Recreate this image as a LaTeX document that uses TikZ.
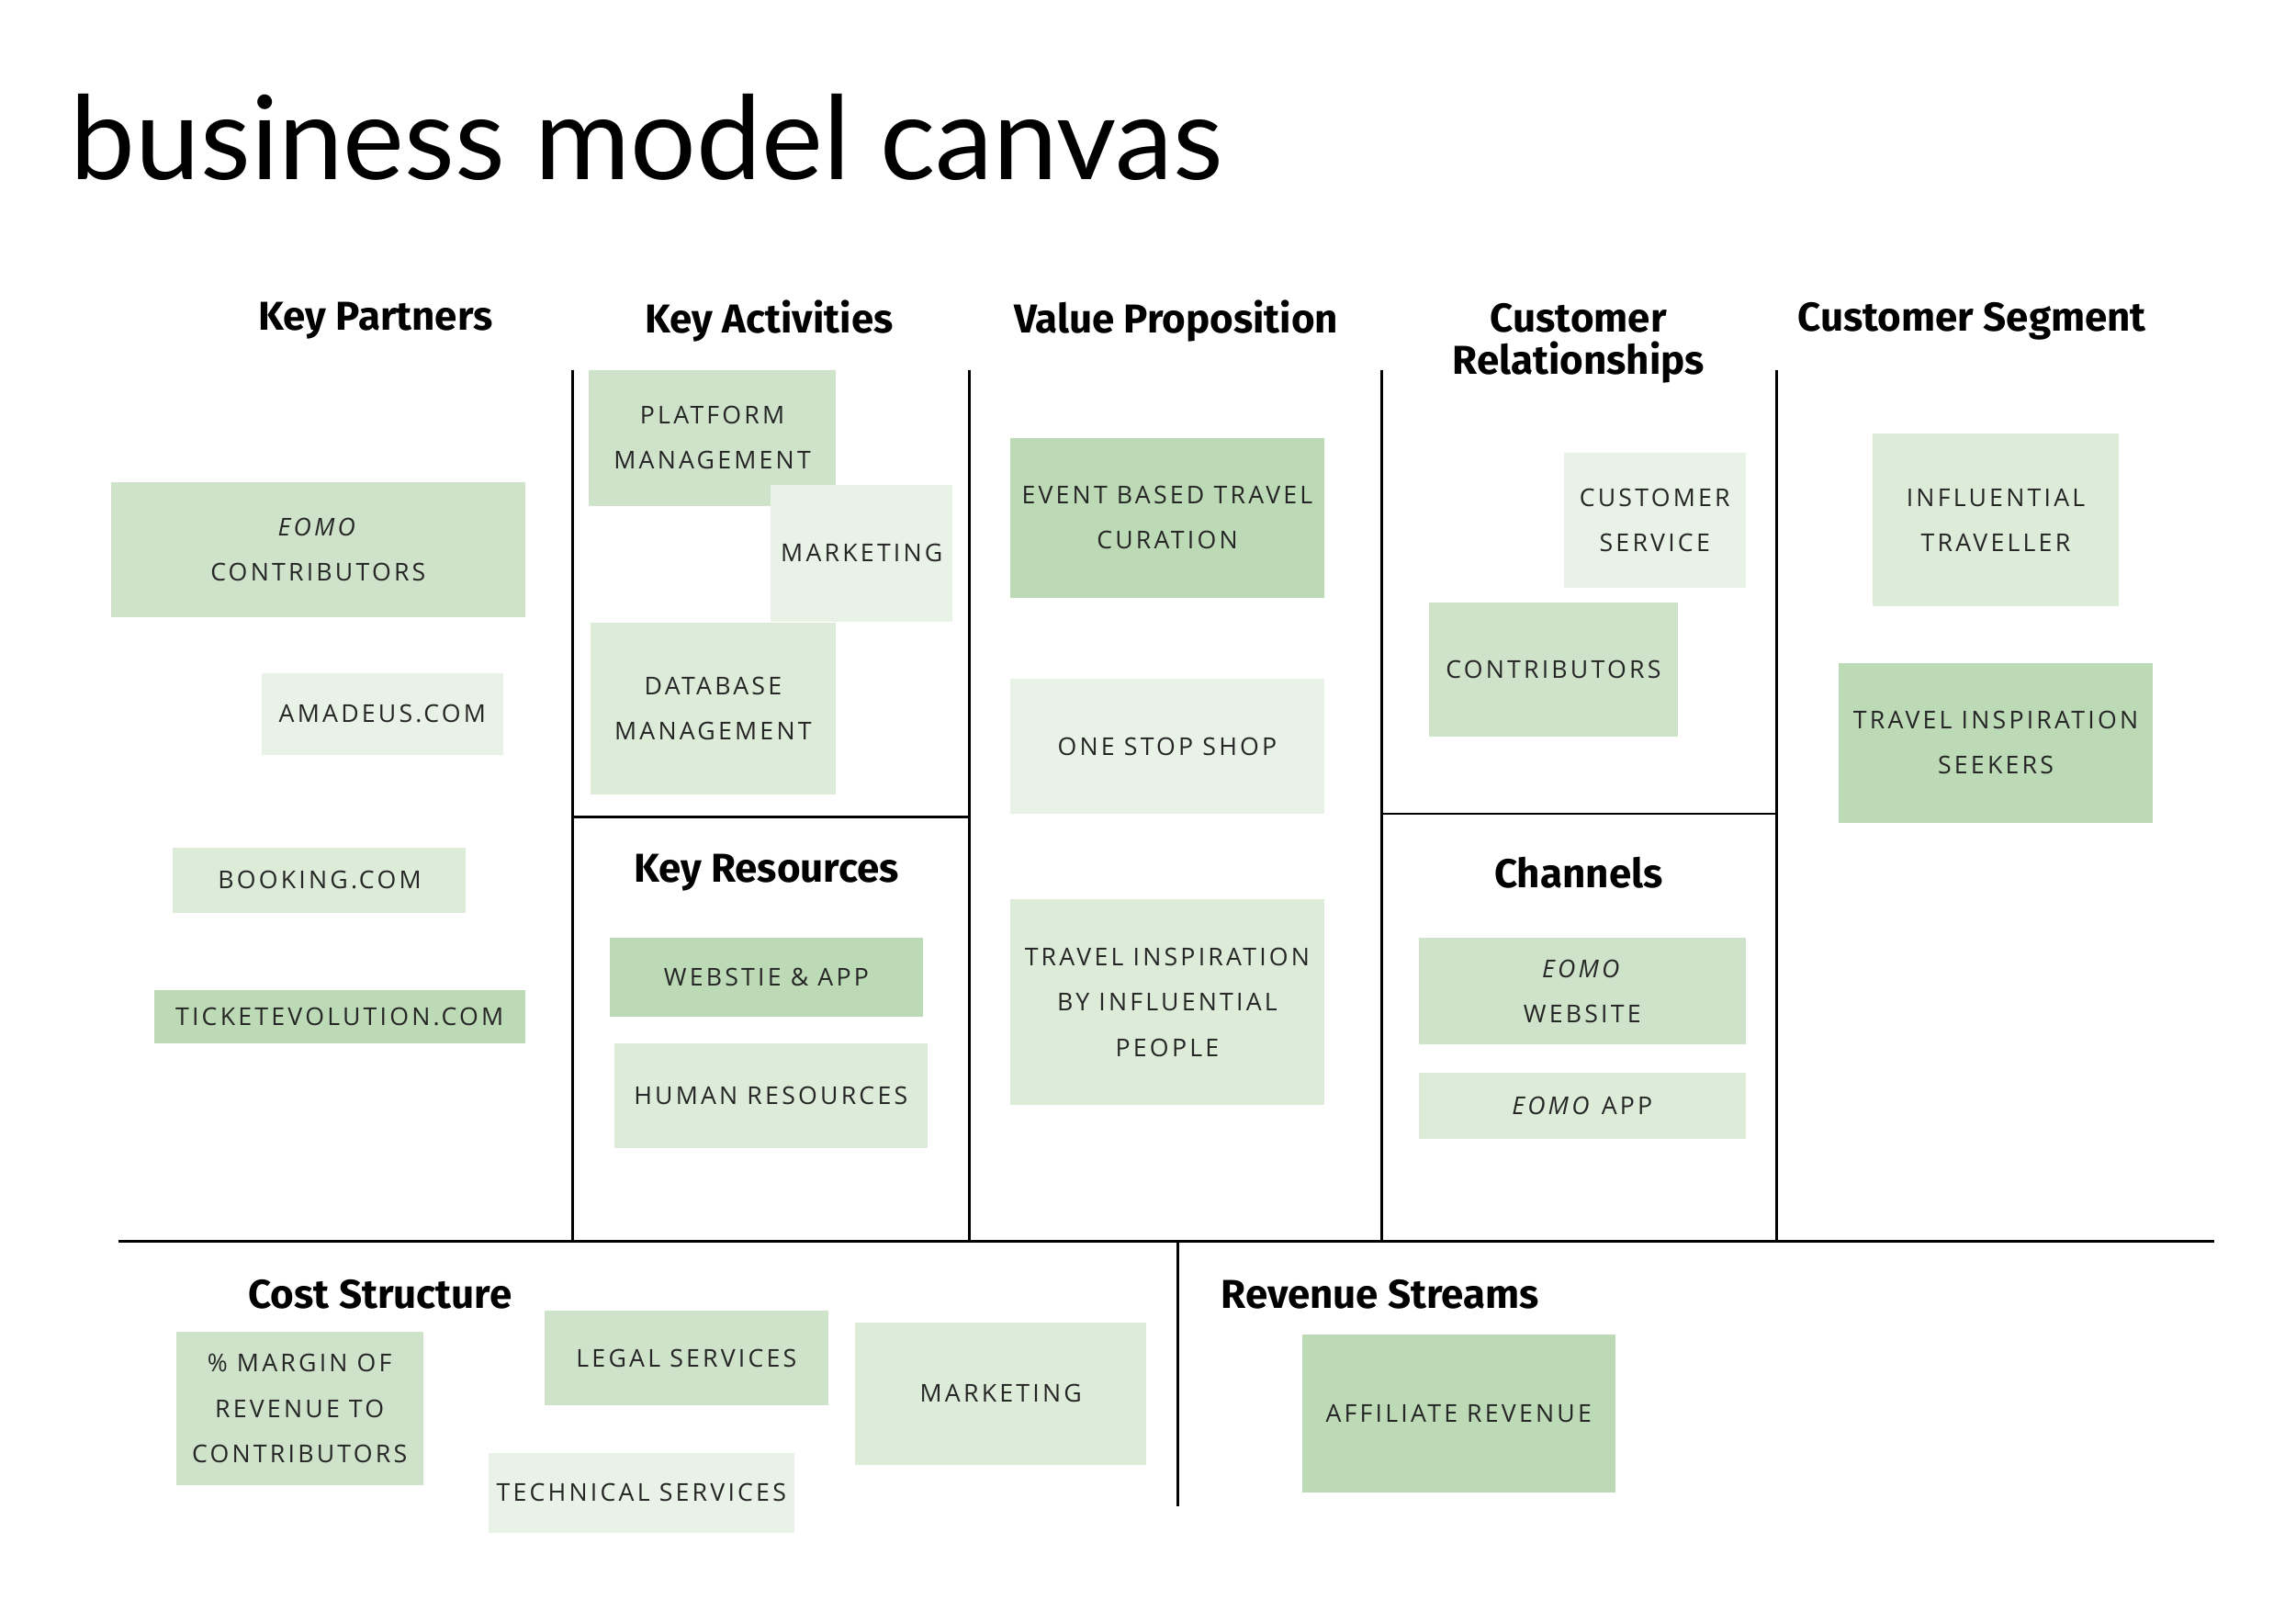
\documentclass[tikz,border=0pt]{standalone}
\usepackage{fontspec}
\setmainfont{Open Sans}
\newfontfamily\titlefont{Lato}
\newfontfamily\headfont{Fira Sans}
\newfontfamily\stickyfont{Open Sans}[LetterSpace=12]
\definecolor{gDark}{HTML}{BDDAB7}
\definecolor{gMid}{HTML}{CEE3CA}
\definecolor{gLight}{HTML}{DDEBD9}
\definecolor{gPale}{HTML}{E9F2E6}
\tikzset{
  sticky/.style={draw=none, inner sep=0pt, align=center,
    font=\stickyfont\fontsize{7.6}{14}\selectfont, text=black!85},
  head/.style={font=\headfont\bfseries\fontsize{12.5}{13}\selectfont, align=center},
  rule/.style={line width=0.8pt, black}
}
% sticky note from its corners (picture pixels)
\newcommand{\sticky}[7]{%
  \node[sticky, fill=#6, minimum width={(#4-#2)*0.01611cm},
        minimum height={(#5-#3)*0.01611cm}]
        (#1) at ({(#2+#4)/2},{(#3+#5)/2}) {#7};}
\begin{document}
\begin{tikzpicture}[x=0.01611cm, y=-0.01611cm]
    \useasboundingbox (0,0) rectangle (1552,1096);
    % title
    \node[anchor=west, font=\titlefont\fontsize{36}{38}\selectfont] (title) at (40,93) {business model canvas};
    % grid lines
    \coordinate (hl) at (80,839);  \coordinate (hr) at (1497,839);
    \draw[rule] (hl) -- (hr);
    \foreach \x in {387,655,934,1201} {
        \draw[rule] (\x,250) -- (\x,839);
    }
    \draw[rule] (387,552) -- (655,552);
    \draw[rule] (934,550) -- (1201,550);
    \draw[rule] (796,839) -- (796,1018);
    % headings
    \node[head] (kp) at (254,217) {Key Partners};
    \node[head] (ka) at (520,217) {Key Activities};
    \node[head] (vp) at (795,217) {Value Proposition};
    \node[head] (cr) at (1067,232) {Customer\\Relationships};
    \node[head] (cs) at (1333,217) {Customer Segment};
    \node[head] (kr) at (518,590) {Key Resources};
    \node[head] (ch) at (1067,590) {Channels};
    \node[head] (cost) at (257,875) {Cost Structure};
    \node[head] (rev) at (933,875) {Revenue Streams};
    % key partners
    \sticky{eomoC}{75}{326}{355}{417}{gMid}{\textit{EOMO}\\CONTRIBUTORS}
    \sticky{amadeus}{177}{455}{340}{510}{gPale}{AMADEUS.COM}
    \sticky{booking}{117}{573}{315}{617}{gLight}{BOOKING.COM}
    \sticky{ticket}{104}{669}{355}{705}{gDark}{TICKETEVOLUTION.COM}
    % key activities
    \sticky{platform}{398}{250}{565}{342}{gMid}{PLATFORM\\MANAGEMENT}
    \sticky{mktA}{521}{328}{644}{420}{gPale}{MARKETING}
    \sticky{database}{399}{421}{565}{537}{gLight}{DATABASE\\MANAGEMENT}
    % key resources
    \sticky{web}{412}{634}{624}{687}{gDark}{WEBSTIE \& APP}
    \sticky{human}{415}{705}{627}{776}{gLight}{HUMAN RESOURCES}
    % value proposition
    \sticky{event}{683}{296}{895}{404}{gDark}{EVENT BASED TRAVEL\\CURATION}
    \sticky{onestop}{683}{459}{895}{550}{gPale}{ONE STOP SHOP}
    \sticky{inspire}{683}{608}{895}{747}{gLight}{TRAVEL INSPIRATION\\BY INFLUENTIAL\\PEOPLE}
    % customer relationships
    \sticky{service}{1057}{306}{1180}{397}{gPale}{CUSTOMER\\SERVICE}
    \sticky{contrib}{966}{407}{1134}{498}{gMid}{CONTRIBUTORS}
    % channels
    \sticky{eomoW}{959}{634}{1180}{706}{gMid}{\textit{EOMO}\\WEBSITE}
    \sticky{eomoA}{959}{725}{1180}{770}{gLight}{\textit{EOMO} APP}
    % customer segment
    \sticky{influ}{1266}{293}{1432}{410}{gLight}{INFLUENTIAL\\TRAVELLER}
    \sticky{seekers}{1243}{448}{1455}{556}{gDark}{TRAVEL INSPIRATION\\SEEKERS}
    % cost structure
    \sticky{margin}{119}{900}{286}{1004}{gMid}{\% MARGIN OF\\REVENUE TO\\CONTRIBUTORS}
    \sticky{legal}{368}{886}{560}{950}{gMid}{LEGAL SERVICES}
    \sticky{mktC}{578}{894}{775}{990}{gLight}{MARKETING}
    \sticky{tech}{330}{982}{537}{1036}{gPale}{TECHNICAL SERVICES}
    % revenue streams
    \sticky{affil}{880}{902}{1092}{1009}{gDark}{AFFILIATE REVENUE}
\end{tikzpicture}
\end{document}
